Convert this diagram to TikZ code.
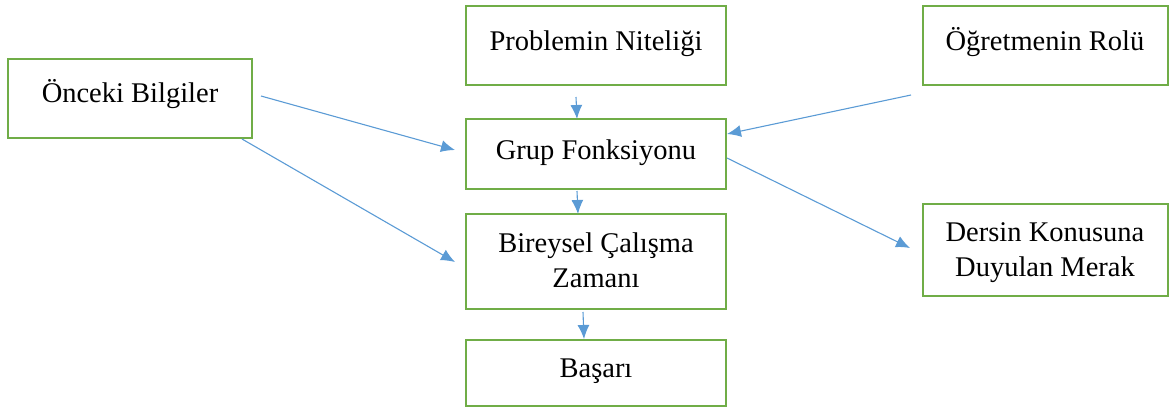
\documentclass[tikz,border=0pt]{standalone}
\usepackage{fontspec}
\setmainfont{Liberation Serif}
\usetikzlibrary{arrows.meta}
\definecolor{boxgreen}{HTML}{70AD47}
\definecolor{arrowblue}{HTML}{5B9BD5}
\begin{document}
\begin{tikzpicture}[x=1pt,y=-1pt,
  box/.style={draw=boxgreen, line width=2.7pt, fill=white},
  lbl/.style={anchor=base, inner sep=0pt, align=center,
    font=\fontsize{28.5}{35}\selectfont},
  link/.style={draw=arrowblue, line width=1.1pt,
    -{Latex[length=14pt,width=12pt]}}]
  \useasboundingbox (0,0) rectangle (1171,408);

  % boxes
  \draw[box] (8,59) rectangle (252,138);
  \draw[box] (466,6) rectangle (726,85);
  \draw[box] (923,6) rectangle (1168,85);
  \draw[box] (466,119) rectangle (726,189);
  \draw[box] (466,214) rectangle (726,309);
  \draw[box] (923,204) rectangle (1168,296);
  \draw[box] (466,340) rectangle (726,406);

  % box texts (two-line texts are placed by the baseline of their last line)
  \node[lbl] (onceki) at (130,102) {Önceki Bilgiler};
  \node[lbl] (problem) at (596,50) {Problemin Niteliği};
  \node[lbl] (ogretmen) at (1045,50) {Öğretmenin Rolü};
  \node[lbl] (grup) at (596,159) {Grup Fonksiyonu};
  \node[lbl] (bireysel) at (596,287) {Bireysel Çalışma\\Zamanı};
  \node[lbl] (merak) at (1045,276) {Dersin Konusuna\\Duyulan Merak};
  \node[lbl] (basari) at (596,377) {Başarı};

  % arrow end points
  \coordinate (p1) at (576,97);   \coordinate (g1) at (577,119);
  \coordinate (o1) at (261,96);   \coordinate (g2) at (455,150);
  \coordinate (o2) at (242,139);  \coordinate (b1) at (455,262);
  \coordinate (r1) at (911,95);   \coordinate (g3) at (727,134);
  \coordinate (g4) at (727,158);  \coordinate (m1) at (910,248);
  \coordinate (g5) at (577,191);  \coordinate (b2) at (578,214);
  \coordinate (b3) at (583,312);  \coordinate (s1) at (584,339);

  \draw[link] (p1) -- (g1);
  \draw[link] (o1) -- (g2);
  \draw[link] (o2) -- (b1);
  \draw[link] (r1) -- (g3);
  \draw[link] (g4) -- (m1);
  \draw[link] (g5) -- (b2);
  \draw[link] (b3) -- (s1);
\end{tikzpicture}
\end{document}
